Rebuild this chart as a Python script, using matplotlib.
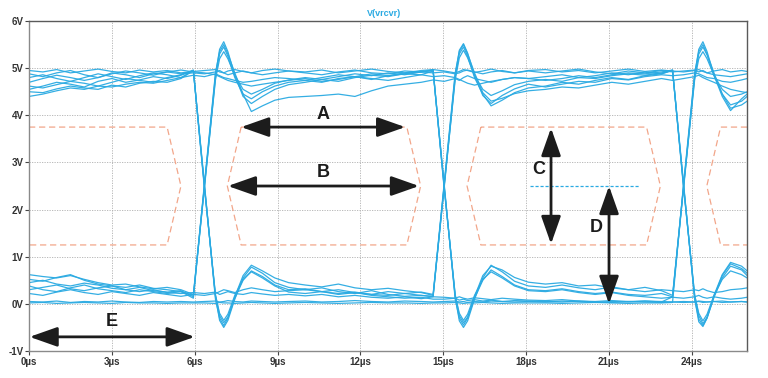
import matplotlib.pyplot as plt

plt.rcParams['font.family'] = ['Liberation Sans Narrow', 'Liberation Sans', 'DejaVu Sans']

# sample times (µs) shared by every trace of the eye diagram
t_us = [0, 0.5, 1.0, 1.5, 2.0, 2.5, 3.0, 3.5, 4.0, 4.5, 5.0, 5.5, 5.95,
        6.35, 6.75, 6.9, 7.05, 7.2, 7.45, 7.75, 8.05, 8.45, 8.9, 9.4,
        10.0, 10.6, 11.2, 11.8, 12.4, 13.0, 13.6, 14.2, 14.63,
        15.03, 15.43, 15.58, 15.73, 15.88, 16.13, 16.43, 16.73, 17.13, 17.58, 18.08,
        18.7, 19.3, 19.9, 20.5, 21.1, 21.7, 22.3, 22.9, 23.3,
        23.7, 24.1, 24.25, 24.4, 24.55, 24.8, 25.1, 25.4, 25.8, 26.0]

# V(vrcvr) traces
tr01 = [4.95, 4.92, 4.97, 4.90, 4.94, 4.98, 4.93, 4.90, 4.96, 4.92, 4.95, 4.90, 4.93,
        4.95, 4.97, 4.92, 4.90, 4.94, 4.97, 4.93, 4.90, 4.95, 4.98, 4.94,
        4.92, 4.96, 4.90, 4.94, 4.98, 4.93, 4.90, 4.95, 4.97,
        4.94, 4.90, 4.93, 4.97, 4.95, 4.91, 4.94, 4.98, 4.93, 4.90, 4.95,
        4.97, 4.92, 4.95, 4.90, 4.94, 4.98, 4.93, 4.96, 4.94,
        4.92, 4.95, 4.97, 4.93, 4.90, 4.94, 4.97, 4.92, 4.95, 4.93]
tr02 = [4.55, 4.62, 4.70, 4.66, 4.60, 4.72, 4.78, 4.70, 4.75, 4.82, 4.78, 4.85, 4.95,
        2.50, 0.15, -0.35, -0.50, -0.35, 0.10, 0.55, 0.78, 0.65, 0.45, 0.35,
        0.30, 0.34, 0.26, 0.22, 0.28, 0.20, 0.16, 0.18, 0.15,
        0.14, 0.12, 0.15, 0.12, 0.10, 0.13, 0.11, 0.09, 0.12, 0.10, 0.08,
        0.07, 0.09, 0.06, 0.05, 0.07, 0.05, 0.06, 0.04, 0.15,
        2.50, 4.85, 5.40, 5.56, 5.35, 4.85, 4.40, 4.10, 4.35, 4.45]
tr03 = [4.40, 4.45, 4.52, 4.58, 4.55, 4.62, 4.60, 4.66, 4.70, 4.68, 4.74, 4.80, 4.95,
        2.45, 0.20, -0.25, -0.40, -0.28, 0.15, 0.60, 0.82, 0.70, 0.55, 0.45,
        0.40, 0.36, 0.42, 0.34, 0.30, 0.33, 0.28, 0.24, 0.18,
        2.45, 4.80, 5.30, 5.45, 5.25, 4.80, 4.45, 4.20, 4.32, 4.48, 4.58,
        4.62, 4.70, 4.66, 4.74, 4.80, 4.76, 4.84, 4.88, 4.95,
        2.50, 0.12, -0.38, -0.48, -0.30, 0.15, 0.60, 0.85, 0.75, 0.65]
tr04 = [0.62, 0.58, 0.55, 0.60, 0.52, 0.45, 0.40, 0.42, 0.36, 0.32, 0.35, 0.30, 0.20,
        2.50, 4.85, 5.40, 5.56, 5.35, 4.85, 4.40, 4.25, 4.40, 4.55, 4.65,
        4.70, 4.76, 4.72, 4.80, 4.85, 4.82, 4.88, 4.92, 4.96,
        2.55, 0.10, -0.30, -0.45, -0.30, 0.12, 0.50, 0.72, 0.58, 0.40, 0.30,
        0.28, 0.32, 0.26, 0.22, 0.25, 0.20, 0.18, 0.22, 0.15,
        2.45, 4.80, 5.30, 5.45, 5.28, 4.85, 4.45, 4.22, 4.30, 4.40]
tr05 = [0.45, 0.50, 0.42, 0.38, 0.44, 0.40, 0.33, 0.30, 0.35, 0.28, 0.25, 0.28, 0.15,
        2.55, 4.90, 5.35, 5.50, 5.30, 4.90, 4.45, 4.08, 4.20, 4.32, 4.38,
        4.40, 4.42, 4.45, 4.40, 4.52, 4.62, 4.66, 4.70, 4.75,
        4.72, 4.78, 4.74, 4.80, 4.84, 4.78, 4.74, 4.70, 4.76, 4.80, 4.78,
        4.82, 4.86, 4.80, 4.84, 4.90, 4.86, 4.92, 4.88, 4.96,
        2.45, 0.20, -0.25, -0.42, -0.28, 0.18, 0.62, 0.88, 0.80, 0.70]
tr06 = [0.30, 0.35, 0.40, 0.32, 0.28, 0.34, 0.38, 0.30, 0.26, 0.30, 0.24, 0.22, 0.24,
        0.22, 0.25, 0.20, 0.23, 0.26, 0.22, 0.20, 0.24, 0.21, 0.18, 0.20,
        0.17, 0.20, 0.15, 0.18, 0.14, 0.12, 0.15, 0.11, 0.15,
        2.50, 4.85, 5.38, 5.52, 5.32, 4.85, 4.42, 4.25, 4.42, 4.56, 4.66,
        4.60, 4.66, 4.72, 4.70, 4.78, 4.75, 4.82, 4.86, 4.84,
        4.86, 4.90, 4.88, 4.84, 4.80, 4.78, 4.72, 4.70, 4.75, 4.78]
tr07 = [4.80, 4.86, 4.78, 4.72, 4.80, 4.88, 4.82, 4.76, 4.84, 4.90, 4.86, 4.80, 4.85,
        4.82, 4.88, 4.84, 4.80, 4.78, 4.74, 4.70, 4.72, 4.76, 4.80, 4.78,
        4.74, 4.80, 4.86, 4.82, 4.88, 4.84, 4.90, 4.92, 4.95,
        2.50, 0.18, -0.20, -0.35, -0.22, 0.18, 0.52, 0.68, 0.55, 0.38, 0.28,
        0.26, 0.30, 0.24, 0.20, 0.24, 0.18, 0.15, 0.12, 0.14,
        0.12, 0.15, 0.18, 0.14, 0.12, 0.15, 0.12, 0.10, 0.12, 0.14]
tr08 = [0.02, 0.03, 0.01, 0.02, 0.03, 0.02, 0.01, 0.03, 0.02, 0.02, 0.01, 0.02, 0.02,
        0.02, 0.01, 0.03, 0.02, 0.02, 0.01, 0.02, 0.03, 0.02, 0.01, 0.02,
        0.03, 0.02, 0.01, 0.02, 0.03, 0.02, 0.02, 0.01, 0.02,
        0.02, 0.03, 0.02, 0.01, 0.02, 0.02, 0.03, 0.02, 0.01, 0.02, 0.02,
        0.02, 0.01, 0.02, 0.03, 0.02, 0.01, 0.02, 0.02, 0.03,
        2.55, 4.90, 5.35, 5.50, 5.30, 4.90, 4.45, 4.15, 4.22, 4.30]
tr09 = [4.62, 4.58, 4.65, 4.72, 4.68, 4.62, 4.70, 4.78, 4.74, 4.70, 4.80, 4.86, 4.96,
        2.55, 0.10, -0.30, -0.46, -0.30, 0.12, 0.50, 0.70, 0.58, 0.40, 0.30,
        0.32, 0.26, 0.30, 0.24, 0.20, 0.26, 0.22, 0.25, 0.20,
        2.55, 4.90, 5.35, 5.50, 5.30, 4.90, 4.48, 4.30, 4.36, 4.46, 4.52,
        4.55, 4.60, 4.58, 4.64, 4.70, 4.66, 4.72, 4.78, 4.74,
        4.78, 4.82, 4.85, 4.80, 4.76, 4.70, 4.62, 4.55, 4.50, 4.48]
tr10 = [0.52, 0.48, 0.56, 0.62, 0.50, 0.42, 0.38, 0.35, 0.40, 0.33, 0.30, 0.26, 0.18,
        2.45, 4.80, 5.30, 5.45, 5.25, 4.80, 4.45, 4.35, 4.50, 4.62, 4.70,
        4.74, 4.70, 4.78, 4.82, 4.76, 4.84, 4.88, 4.86, 4.94,
        2.50, 0.15, -0.36, -0.50, -0.36, 0.10, 0.55, 0.82, 0.68, 0.48, 0.38,
        0.35, 0.40, 0.34, 0.30, 0.36, 0.30, 0.26, 0.30, 0.28,
        0.26, 0.30, 0.28, 0.32, 0.28, 0.24, 0.26, 0.30, 0.32, 0.34]
tr11 = [4.70, 4.78, 4.85, 4.80, 4.74, 4.80, 4.90, 4.86, 4.80, 4.88, 4.92, 4.88, 4.90,
        4.88, 4.92, 4.95, 4.90, 4.86, 4.90, 4.94, 4.90, 4.86, 4.90, 4.94,
        4.90, 4.86, 4.92, 4.96, 4.90, 4.88, 4.94, 4.92, 4.96,
        2.45, 0.20, -0.25, -0.40, -0.28, 0.15, 0.60, 0.80, 0.72, 0.56, 0.46,
        0.42, 0.45, 0.38, 0.40, 0.34, 0.30, 0.35, 0.28, 0.18,
        2.50, 4.75, 5.20, 5.35, 5.20, 4.85, 4.55, 4.40, 4.45, 4.50]
tr12 = [0.22, 0.18, 0.25, 0.30, 0.24, 0.20, 0.26, 0.22, 0.18, 0.24, 0.20, 0.16, 0.20,
        0.18, 0.22, 0.26, 0.30, 0.28, 0.24, 0.30, 0.34, 0.30, 0.26, 0.28,
        0.30, 0.26, 0.22, 0.25, 0.20, 0.18, 0.22, 0.18, 0.16,
        2.50, 4.75, 5.22, 5.38, 5.22, 4.85, 4.55, 4.42, 4.52, 4.65, 4.72,
        4.76, 4.72, 4.80, 4.78, 4.84, 4.88, 4.85, 4.90, 4.95,
        2.50, 0.18, -0.20, -0.36, -0.22, 0.18, 0.52, 0.70, 0.62, 0.55]
tr13 = [4.50, 4.48, 4.56, 4.62, 4.58, 4.55, 4.64, 4.60, 4.68, 4.72, 4.70, 4.78, 4.95,
        2.50, 0.18, -0.20, -0.35, -0.22, 0.18, 0.52, 0.68, 0.55, 0.38, 0.25,
        0.22, 0.26, 0.20, 0.24, 0.18, 0.15, 0.12, 0.14, 0.10,
        0.10, 0.12, 0.08, 0.10, 0.07, 0.09, 0.06, 0.08, 0.05, 0.07, 0.06,
        0.05, 0.04, 0.06, 0.04, 0.03, 0.05, 0.04, 0.03, 0.04,
        0.03, 0.04, 0.05, 0.03, 0.04, 0.05, 0.03, 0.04, 0.05, 0.04]
tr14 = [0.38, 0.30, 0.26, 0.34, 0.40, 0.32, 0.28, 0.24, 0.30, 0.26, 0.22, 0.26, 0.12,
        2.50, 4.75, 5.20, 5.35, 5.20, 4.85, 4.55, 4.45, 4.55, 4.68, 4.75,
        4.80, 4.76, 4.82, 4.88, 4.84, 4.90, 4.86, 4.92, 4.90,
        4.92, 4.88, 4.90, 4.94, 4.96, 4.92, 4.88, 4.92, 4.95, 4.90, 4.94,
        4.90, 4.94, 4.98, 4.92, 4.88, 4.94, 4.90, 4.95, 4.92,
        4.94, 4.96, 4.92, 4.95, 4.90, 4.86, 4.84, 4.82, 4.86, 4.88]
tr15 = [0.05, 0.04, 0.06, 0.03, 0.05, 0.04, 0.06, 0.04, 0.03, 0.05, 0.04, 0.05, 0.04,
        0.05, 0.06, 0.04, 0.05, 0.07, 0.05, 0.04, 0.06, 0.05, 0.04, 0.05,
        0.06, 0.04, 0.05, 0.07, 0.05, 0.04, 0.06, 0.05, 0.04,
        0.05, 0.06, 0.04, 0.05, 0.03, 0.05, 0.04, 0.06, 0.05, 0.04, 0.05,
        0.04, 0.06, 0.05, 0.03, 0.05, 0.04, 0.06, 0.05, 0.04,
        0.05, 0.04, 0.06, 0.05, 0.04, 0.05, 0.06, 0.04, 0.05, 0.04]
tr16 = [4.88, 4.82, 4.90, 4.95, 4.86, 4.80, 4.88, 4.94, 4.90, 4.85, 4.92, 4.96, 4.92,
        4.90, 4.86, 4.82, 4.78, 4.74, 4.70, 4.66, 4.62, 4.66, 4.70, 4.74,
        4.78, 4.72, 4.76, 4.82, 4.78, 4.74, 4.80, 4.86, 4.82,
        4.84, 4.80, 4.76, 4.72, 4.68, 4.64, 4.68, 4.72, 4.76, 4.80, 4.78,
        4.74, 4.78, 4.84, 4.80, 4.86, 4.90, 4.88, 4.92, 4.96,
        2.55, 0.10, -0.32, -0.46, -0.30, 0.14, 0.55, 0.80, 0.72, 0.60]
traces = [tr01, tr02, tr03, tr04, tr05, tr06, tr07, tr08,
          tr09, tr10, tr11, tr12, tr13, tr14, tr15, tr16]

# eye mask outlines (µs, V)
mask1_x = [0, 5.0, 5.5, 5.0, 0]
mask1_y = [3.75, 3.75, 2.5, 1.25, 1.25]
mask2_x = [7.68, 7.18, 7.68, 13.68, 14.18, 13.68, 7.68]
mask2_y = [3.75, 2.5, 1.25, 1.25, 2.5, 3.75, 3.75]
mask3_x = [16.36, 15.86, 16.36, 22.36, 22.86, 22.36, 16.36]
mask3_y = [3.75, 2.5, 1.25, 1.25, 2.5, 3.75, 3.75]
mask4_x = [26.0, 25.04, 24.54, 25.04, 26.0]
mask4_y = [3.75, 3.75, 2.5, 1.25, 1.25]

x_ticks = [0, 3, 6, 9, 12, 15, 18, 21, 24]
y_ticks = [-1, 0, 1, 2, 3, 4, 5, 6]

trace_col = '#2aaae2'
mask_col = '#f2a68a'
ink = '#1c1c1c'

fig = plt.figure(figsize=(7.68, 3.78), dpi=100)
ax = fig.add_axes([0.0378, 0.0714, 0.935, 0.873])

for v in traces:
    ax.plot(t_us, v, color=trace_col, lw=0.9, alpha=0.95)

for mx, my in [(mask1_x, mask1_y), (mask2_x, mask2_y),
               (mask3_x, mask3_y), (mask4_x, mask4_y)]:
    ax.plot(mx, my, color=mask_col, lw=0.9, ls=(0, (5, 3)))

# dashed threshold marker
ax.plot([18.15, 22.1], [2.5, 2.5], color=trace_col, lw=0.9, ls=(0, (2.5, 1.5)))

arr = dict(arrowstyle='<|-|>,head_length=0.85,head_width=0.3',
           color=ink, lw=2.0, mutation_scale=20, shrinkA=0, shrinkB=0)

ax.annotate('', xy=(13.62, 3.75), xytext=(7.68, 3.75), arrowprops=arr)
ax.annotate('', xy=(14.12, 2.5), xytext=(7.2, 2.5), arrowprops=arr)
ax.annotate('', xy=(18.9, 1.27), xytext=(18.9, 3.73), arrowprops=arr)
ax.annotate('', xy=(21.0, 0.0), xytext=(21.0, 2.5), arrowprops=arr)
ax.annotate('', xy=(6.0, -0.7), xytext=(0.02, -0.7), arrowprops=arr)

lab = dict(fontsize=13, fontweight='bold', color=ink, ha='center', va='center',
           family=['Liberation Sans', 'DejaVu Sans'])
ax.text(10.65, 4.02, 'A', **lab)
ax.text(10.65, 2.79, 'B', **lab)
ax.text(18.45, 2.85, 'C', **lab)
ax.text(20.55, 1.62, 'D', **lab)
ax.text(3.0, -0.38, 'E', **lab)

ax.set_xlim(0, 26)
ax.set_ylim(-1, 6)
ax.set_xticks(x_ticks)
ax.set_xticklabels([f'{v}µs' for v in x_ticks])
ax.set_yticks(y_ticks)
ax.set_yticklabels([f'{v}V' for v in y_ticks])
ax.tick_params(direction='out', length=3, width=0.8, color='#444444',
               labelsize=7, labelcolor='#333333', pad=1)
for lbl in ax.get_xticklabels() + ax.get_yticklabels():
    lbl.set_fontweight('bold')
ax.grid(True, color='#b0b0b0', lw=0.6, ls=(0, (1.5, 1.5)))
for s in ax.spines.values():
    s.set_color('#5a5a5a')
    s.set_linewidth(1.0)
ax.spines['left'].set_color('#8a8a8a')
ax.spines['bottom'].set_color('#8a8a8a')

fig.text(0.5, 0.965, 'V(vrcvr)', color=trace_col, fontsize=6.5,
         fontweight='bold', ha='center', va='center')

fig.savefig('out.png', dpi=100)
